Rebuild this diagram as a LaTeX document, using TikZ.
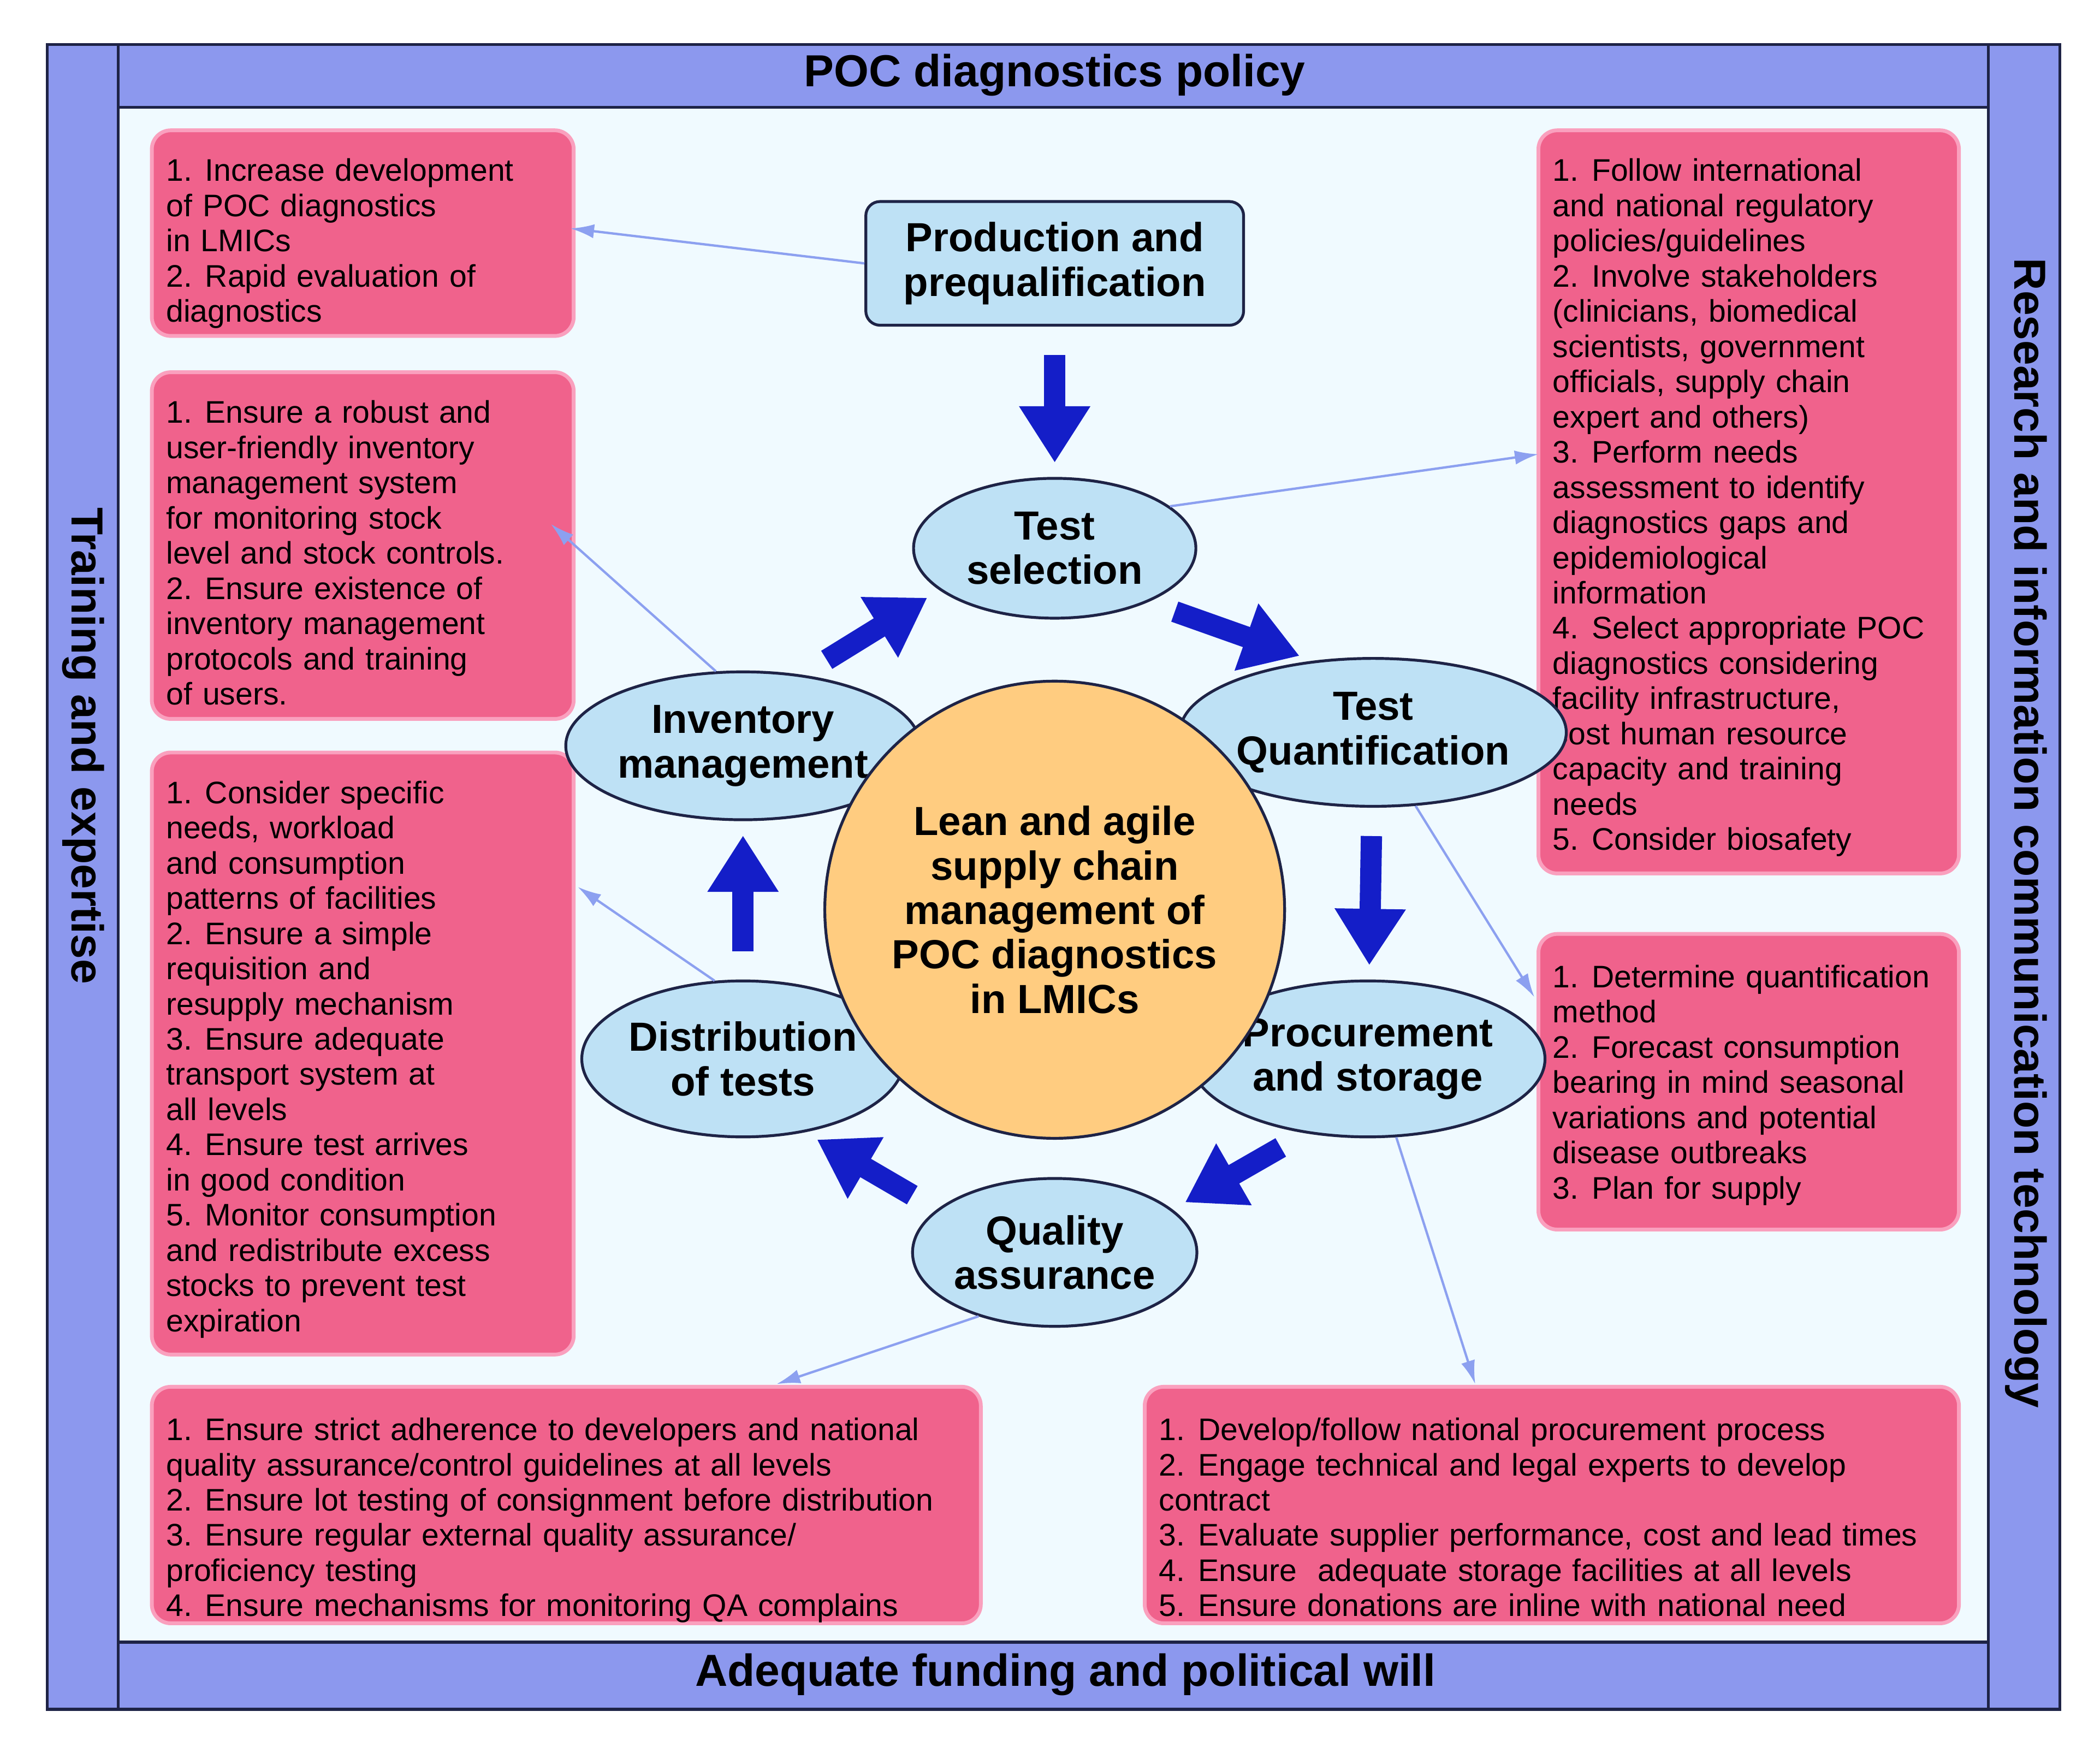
\documentclass[tikz,border=0pt]{standalone}
\usepackage{fontspec}
\setmainfont{Liberation Sans}
\usetikzlibrary{arrows.meta,shapes.geometric}
\definecolor{cframe}{RGB}{140,152,238}
\definecolor{cinner}{RGB}{240,250,255}
\definecolor{cpink}{RGB}{240,98,140}
\definecolor{cpinkline}{RGB}{250,160,190}
\definecolor{cell}{RGB}{190,225,245}
\definecolor{corange}{RGB}{255,204,128}
\definecolor{cdark}{RGB}{30,35,70}
\definecolor{cfat}{RGB}{20,30,200}
\definecolor{cthin}{RGB}{140,160,240}
\newcommand\itm[2]{\par\hangindent=1.25em\hangafter=1\noindent\makebox[1.25em][l]{#1}#2}

\begin{document}
\begin{tikzpicture}[x=0.01cm, y=-0.01cm,
  band/.style={draw=cdark, fill=cframe, line width=0.6pt},
  box/.style={draw=cpinkline, fill=cpink, rounded corners=4pt, line width=0.8pt},
  boxtext/.style={anchor=north west, inner sep=0pt, align=left, font=\fontsize{6.6}{7.45}\selectfont},
  stage/.style={ellipse, draw=cdark, fill=cell, line width=0.6pt, align=center, inner sep=0pt, font=\fontsize{8.6}{9.4}\selectfont\bfseries},
  fat/.style={cfat, line width=4.5pt, -{Triangle[length=0.42cm,width=0.5cm]}, shorten <=6pt, shorten >=3pt},
  thin/.style={cthin, line width=0.5pt, -{Latex[length=5pt,width=3pt]}},
  title/.style={font=\fontsize{9.5}{11}\selectfont\bfseries}]
  \useasboundingbox (0,0) rectangle (1563,1300);
  \fill[white] (0,0) rectangle (1563,1300);

  % frame
  \path[band] (35,33) rectangle (88,1272);
  \path[band] (1480,33) rectangle (1533,1272);
  \path[band] (88,33) rectangle (1480,80);
  \path[band] (88,1222) rectangle (1480,1272);
  \path[draw=cdark, fill=cinner, line width=0.6pt] (88,80) rectangle (1480,1222);
  \node[title] (policy) at (785,56) {POC diagnostics policy};
  \node[title] (funding) at (793,1246) {Adequate funding and political will};
  \node[title, rotate=-90] (training) at (62,555) {Training and expertise};
  \node[title, rotate=-90] (research) at (1508,620) {Research and information communication technology};

  % recommendation boxes
  \path[box] (113,97) rectangle (427,250);
  \path[box] (113,277) rectangle (427,535);
  \path[box] (113,560) rectangle (427,1008);
  \path[box] (113,1032) rectangle (730,1208);
  \path[box] (1145,97) rectangle (1458,650);
  \path[box] (1145,695) rectangle (1458,915);
  \path[box] (852,1032) rectangle (1458,1208);

  \node[boxtext, text width=3cm] (recprod) at (123,108) {%
    \itm{1.}{Increase development\\of POC diagnostics\\in LMICs}
    \itm{2.}{Rapid evaluation of\\diagnostics}};
  \node[boxtext, text width=3cm] (recinv) at (123,288) {%
    \itm{1.}{Ensure a robust and\\user-friendly inventory\\management system\\for monitoring stock\\level and stock controls.}
    \itm{2.}{Ensure existence of\\inventory management\\protocols and training\\of users.}};
  \node[boxtext, text width=3cm] (recdist) at (123,571) {%
    \itm{1.}{Consider specific\\needs, workload\\and consumption\\patterns of facilities}
    \itm{2.}{Ensure a simple\\requisition and\\resupply mechanism}
    \itm{3.}{Ensure adequate\\transport system at\\all levels}
    \itm{4.}{Ensure test arrives\\in good condition}
    \itm{5.}{Monitor consumption\\and redistribute excess\\stocks to prevent test\\expiration}};
  \node[boxtext, text width=6cm] (recqual) at (123,1045) {%
    \itm{1.}{Ensure strict adherence to developers and national\\quality assurance/control guidelines at all levels}
    \itm{2.}{Ensure lot testing of consignment before distribution}
    \itm{3.}{Ensure regular external quality assurance/\\proficiency testing}
    \itm{4.}{Ensure mechanisms for monitoring QA complains}};
  \node[boxtext, text width=3cm] (recsel) at (1155,108) {%
    \itm{1.}{Follow international\\and national regulatory\\policies/guidelines}
    \itm{2.}{Involve stakeholders\\(clinicians, biomedical\\scientists, government\\officials, supply chain\\expert and others)}
    \itm{3.}{Perform needs\\assessment to identify\\diagnostics gaps and\\epidemiological\\information}
    \itm{4.}{Select appropriate POC\\diagnostics considering\\facility infrastructure,\\cost human resource\\capacity and training\\needs}
    \itm{5.}{Consider biosafety}};
  \node[boxtext, text width=3cm] (recquant) at (1155,708) {%
    \itm{1.}{Determine quantification\\method}
    \itm{2.}{Forecast consumption\\bearing in mind seasonal\\variations and potential\\disease outbreaks}
    \itm{3.}{Plan for supply}};
  \node[boxtext, text width=6cm] (recproc) at (862,1045) {%
    \itm{1.}{Develop/follow national procurement process}
    \itm{2.}{Engage technical and legal experts to develop\\contract}
    \itm{3.}{Evaluate supplier performance, cost and lead times}
    \itm{4.}{Ensure \ adequate storage facilities at all levels}
    \itm{5.}{Ensure donations are inline with national need}};

  % supply chain cycle
  \node[draw=cdark, fill=cell, line width=0.6pt, rounded corners=3pt, minimum width=2.81cm, minimum height=0.92cm, align=center, font=\fontsize{8.6}{9.4}\selectfont\bfseries] (prod) at (785,196) {Production and\\prequalification};
  \node[stage, minimum width=2.1cm, minimum height=1.04cm] (sel) at (785,408) {Test\\selection};
  \node[stage, minimum width=2.16cm, minimum height=1.1cm] (quant) at (1022,545) {Test\\Quantification};
  \node[stage, minimum width=2.2cm, minimum height=1.16cm] (proc) at (1018,788) {Procurement\\and storage};
  \node[stage, minimum width=2.1cm, minimum height=1.1cm] (qual) at (785,932) {Quality\\assurance};
  \node[stage, minimum width=2.2cm, minimum height=1.16cm] (dist) at (553,788) {Distribution\\of tests};
  \node[stage, minimum width=2.2cm, minimum height=1.1cm] (inv) at (553,555) {Inventory\\management};
  \node[stage, fill=corange, minimum width=2.76cm, minimum height=3.4cm] (lean) at (785,677) {Lean and agile\\supply chain\\management of\\POC diagnostics\\in LMICs};

  \draw[fat] (prod) -- (sel);
  \draw[fat] (sel.-30) -- (quant.130);
  \draw[fat] (quant) -- (proc);
  \draw[fat] (proc.-130) -- (qual.20);
  \draw[fat] (qual.160) -- (dist.-50);
  \draw[fat] (dist) -- (inv);
  \draw[fat] (inv.50) -- (sel.-160);

  \draw[thin] (prod.west) -- (recprod.east |- 0,170);
  \draw[thin] (sel.20) -- (1145,338);
  \draw[thin] (inv.110) -- (410,390);
  \draw[thin] (dist.110) -- (430,660);
  \draw[thin] (quant.-60) -- (1142,742);
  \draw[thin] (proc.-70) -- (1098,1030);
  \draw[thin] (qual.-140) -- (578,1030);
\end{tikzpicture}
\end{document}
